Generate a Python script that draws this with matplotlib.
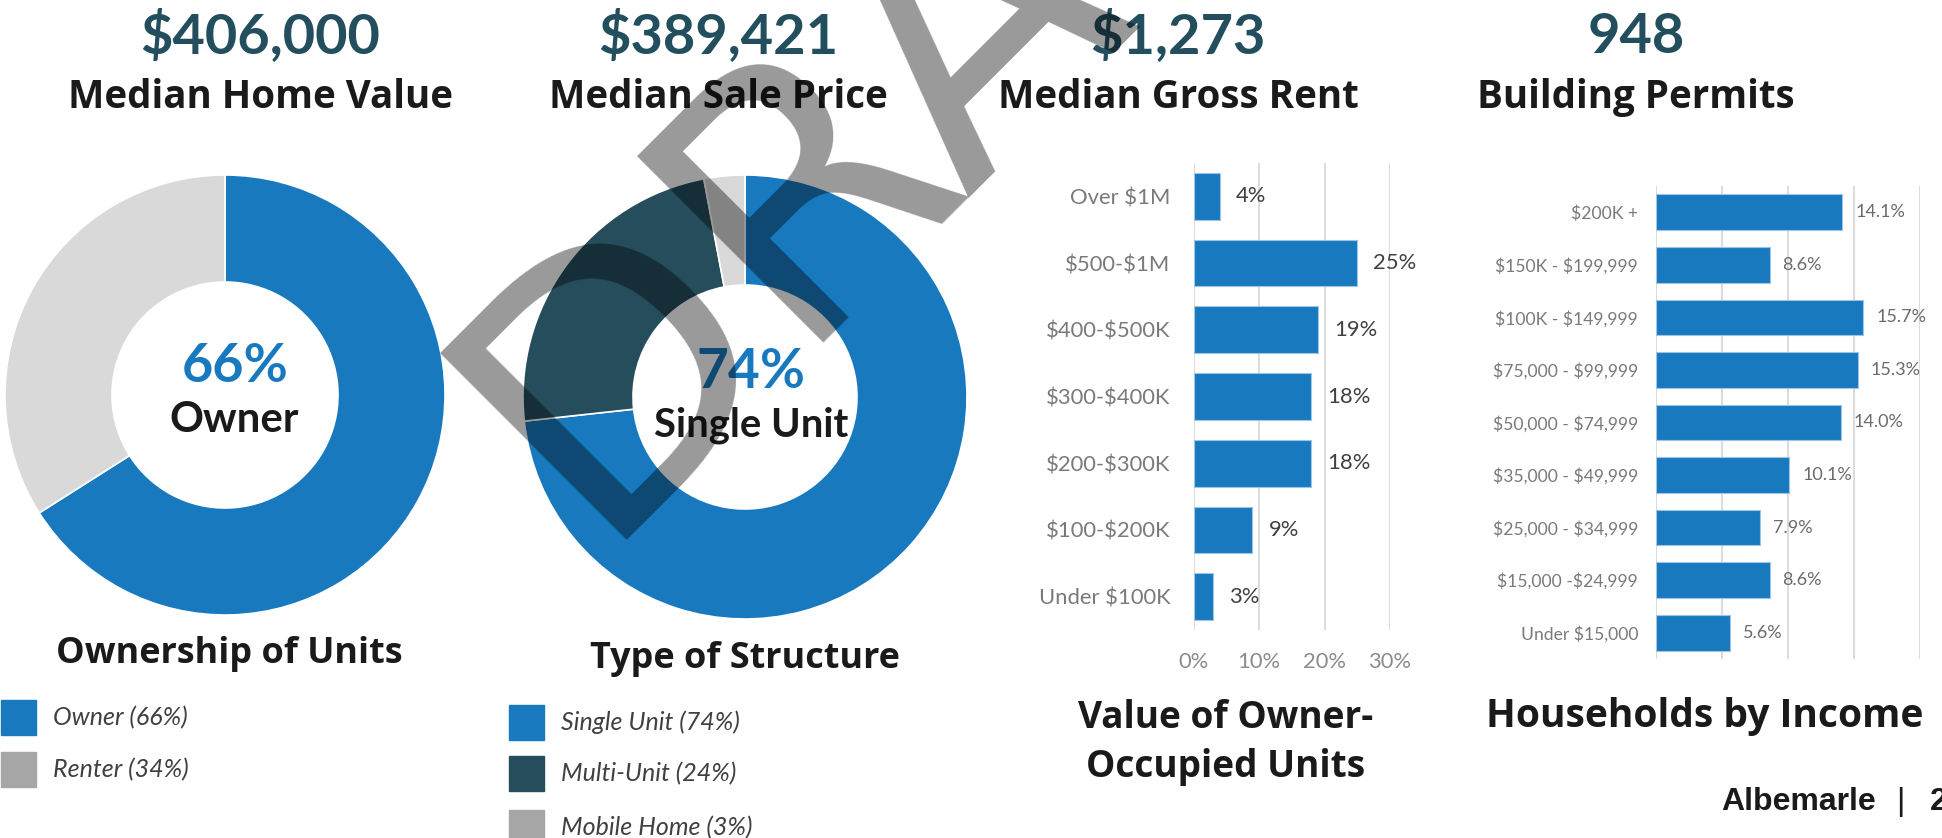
import matplotlib
matplotlib.use("Agg")
import matplotlib.pyplot as plt
import numpy as np

plt.rcParams["text.parse_math"] = False

W, H = 1942, 838

# headline numbers
headline_values = ["$406,000", "$389,421", "$1,273", "948"]
headline_labels = ["Median Home Value", "Median Sale Price", "Median Gross Rent", "Building Permits"]

# ownership donut
own_labels = ["Owner", "Renter"]
own_values = [66, 34]

# structure donut
struct_labels = ["Single Unit", "Multi-Unit", "Mobile Home"]
struct_values = [74, 24, 3]

# value of owner-occupied units
value_cats = ["Over $1M", "$500-$1M", "$400-$500K", "$300-$400K", "$200-$300K", "$100-$200K", "Under $100K"]
value_pct = [4, 25, 19, 18, 18, 9, 3]

# households by income
income_cats = ["$200K +", "$150K - $199,999", "$100K - $149,999", "$75,000 - $99,999", "$50,000 - $74,999",
               "$35,000 - $49,999", "$25,000 - $34,999", "$15,000 -$24,999", "Under $15,000"]
income_pct = [14.1, 8.6, 15.7, 15.3, 14.0, 10.1, 7.9, 8.6, 5.6]

BLUE = "#1879bf"
TEAL = "#254d5c"
LIGHT = "#d9d9d9"
GREY = "#a6a6a6"
HEAD = "#234e5e"
FONT = "Lato"
TITLE_FONT = "Open Sans"


def fx(x):
    return x / W


def fy(y):
    return 1 - y / H


def box(l, t, r, b):
    return [l / W, 1 - b / H, (r - l) / W, (b - t) / H]


def pt(px):
    return px * 0.72


fig = plt.figure(figsize=(W / 100, H / 100), dpi=100)
fig.patch.set_facecolor("white")

# headline row
head_x = [260, 718, 1178, 1636]
for x, v, lab in zip(head_x, headline_values, headline_labels):
    fig.text(fx(x), fy(53), v, ha="center", va="baseline", fontsize=pt(56),
             fontweight="bold", color=HEAD, family=FONT)
    fig.text(fx(x), fy(108), lab, ha="center", va="baseline", fontsize=pt(38.5),
             fontweight="bold", color="#1a1a1a", family=TITLE_FONT)

# donuts
def donut(cx, cy, R, r, values, colors):
    ax = fig.add_axes(box(cx - R, cy - R, cx + R, cy + R))
    ax.pie(values, colors=colors, startangle=90, counterclock=False, radius=1,
           wedgeprops=dict(width=1 - r / R, edgecolor="white", linewidth=1.2))
    ax.set_xlim(-1, 1)
    ax.set_ylim(-1, 1)
    ax.axis("off")
    return ax

donut(225, 395, 220, 113, own_values, [BLUE, LIGHT])
donut(745, 397, 222, 112, struct_values, [BLUE, TEAL, LIGHT])

fig.text(fx(235), fy(382), "66%", ha="center", va="baseline", fontsize=pt(54),
         fontweight="bold", color=BLUE, family=FONT)
fig.text(fx(234), fy(432), "Owner", ha="center", va="baseline", fontsize=pt(42),
         fontweight="bold", color="#1a1a1a", family=FONT)
fig.text(fx(751), fy(388), "74%", ha="center", va="baseline", fontsize=pt(55),
         fontweight="bold", color=BLUE, family=FONT)
fig.text(fx(751), fy(436), "Single Unit", ha="center", va="baseline", fontsize=pt(40),
         fontweight="bold", color="#1a1a1a", family=FONT)

fig.text(fx(229), fy(663), "Ownership of Units", ha="center", va="baseline", fontsize=pt(36),
         fontweight="bold", color="#1a1a1a", family=TITLE_FONT)
fig.text(fx(745), fy(668), "Type of Structure", ha="center", va="baseline", fontsize=pt(36),
         fontweight="bold", color="#1a1a1a", family=TITLE_FONT)

# legends
def legend(x0, tops, labels, values, colors):
    for t, lab, v, c in zip(tops, labels, values, colors):
        fig.patches.append(plt.Rectangle((fx(x0), fy(t + 35)), 35 / W, 35 / H,
                                         transform=fig.transFigure, color=c))
        fig.text(fx(x0 + 52), fy(t + 25), f"{lab} ({v}%)", ha="left", va="baseline",
                 fontsize=pt(25), style="italic", color="#404040", family=FONT)

legend(1, [700, 752], own_labels, own_values, [BLUE, GREY])
legend(509, [705, 756, 810], struct_labels, struct_values, [BLUE, TEAL, GREY])

# bar chart: value of owner-occupied units
ax1 = fig.add_axes(box(1193.5, 163, 1390, 630))
y1 = np.arange(len(value_cats))
ax1.barh(y1, value_pct, height=0.7, color=BLUE, edgecolor="#9dc3e6", linewidth=0.8, zorder=3)
ax1.set_xlim(0, 30)
ax1.set_ylim(len(value_cats) - 0.5, -0.5)
ax1.set_xticks([0, 10, 20, 30])
ax1.set_xticklabels(["0%", "10%", "20%", "30%"])
ax1.set_yticks(y1)
ax1.set_yticklabels(value_cats)
ax1.xaxis.grid(True, color=LIGHT, linewidth=1.3, zorder=0)
for s in ax1.spines.values():
    s.set_visible(False)
ax1.tick_params(axis="x", length=0, pad=pt(22), labelsize=pt(22), labelcolor="#8c8c8c")
ax1.tick_params(axis="y", length=0, pad=pt(23), labelsize=pt(22), labelcolor="#7a7a7a")
for lab in ax1.get_xticklabels() + ax1.get_yticklabels():
    lab.set_family(FONT)
for yy, v in zip(y1, value_pct):
    ax1.annotate(f"{v}%", (v, yy), xytext=(pt(16), 0), textcoords="offset points",
                 va="center", ha="left", fontsize=pt(22), color="#404040", family=FONT,
                 annotation_clip=False)

fig.text(fx(1226), fy(728), "Value of Owner-", ha="center", va="baseline", fontsize=pt(37),
         fontweight="bold", color="#1a1a1a", family=TITLE_FONT)
fig.text(fx(1226), fy(777), "Occupied Units", ha="center", va="baseline", fontsize=pt(37),
         fontweight="bold", color="#1a1a1a", family=TITLE_FONT)

# bar chart: households by income
ax2 = fig.add_axes(box(1656, 186, 1920, 659))
y2 = np.arange(len(income_cats))
ax2.barh(y2, income_pct, height=0.68, color=BLUE, edgecolor="#9dc3e6", linewidth=0.8, zorder=3)
ax2.set_xlim(0, 20)
ax2.set_ylim(len(income_cats) - 0.5, -0.5)
ax2.set_xticks([0, 5, 10, 15, 20])
ax2.set_xticklabels([])
ax2.set_yticks(y2)
ax2.set_yticklabels(income_cats)
ax2.xaxis.grid(True, color=LIGHT, linewidth=1.3, zorder=0)
for s in ax2.spines.values():
    s.set_visible(False)
ax2.tick_params(axis="x", length=0)
ax2.tick_params(axis="y", length=0, pad=pt(18), labelsize=pt(17.5), labelcolor="#7a7a7a")
for lab in ax2.get_yticklabels():
    lab.set_family(FONT)
for yy, v in zip(y2, income_pct):
    ax2.annotate(f"{v:.1f}%", (v, yy), xytext=(pt(13), 0), textcoords="offset points",
                 va="center", ha="left", fontsize=pt(18), color="#6b6b6b", family=FONT,
                 annotation_clip=False)

fig.text(fx(1486), fy(727), "Households by Income", ha="left", va="baseline", fontsize=pt(39),
         fontweight="bold", color="#1a1a1a", family=TITLE_FONT)

# footer
fig.text(fx(1721), fy(810), "Albemarle", ha="left", va="baseline", fontsize=pt(32),
         fontweight="bold", color="#1a1a1a", family="Liberation Sans")
fig.text(fx(1900), fy(810), "|", ha="center", va="baseline", fontsize=pt(32),
         color="#1a1a1a", family="Liberation Sans")
fig.text(fx(1930), fy(810), "2", ha="left", va="baseline", fontsize=pt(32),
         fontweight="bold", color="#1a1a1a", family="Liberation Sans")

# watermark
fig.text(fx(591), fy(540), "DRAFT", ha="left", va="baseline", rotation=45,
         rotation_mode="anchor", fontsize=pt(363), color="black", alpha=0.4,
         family="DejaVu Sans", zorder=10)

fig.savefig("out.png", dpi=100)
